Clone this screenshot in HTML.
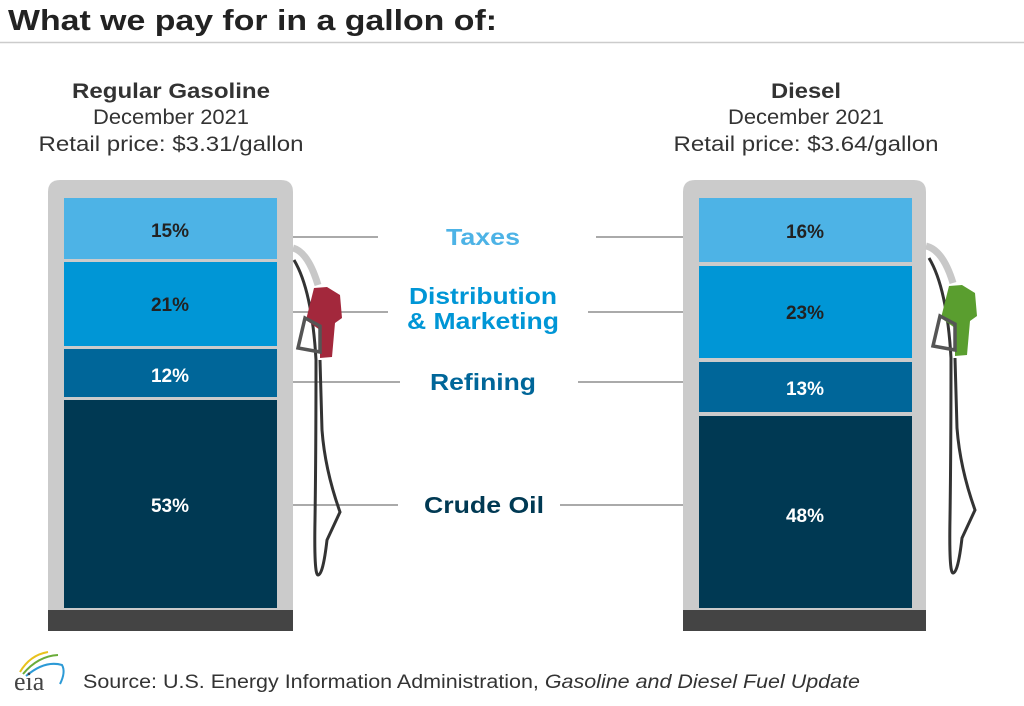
<!DOCTYPE html>
<html><head><style>
body{margin:0;background:#fff;}
svg{display:block;font-family:"Liberation Sans",Arial,sans-serif;}
</style></head><body>
<svg width="1024" height="706" viewBox="0 0 1024 706">
<text x="8" y="30" font-size="29" font-weight="bold" fill="#222" textLength="489" lengthAdjust="spacingAndGlyphs">What we pay for in a gallon of:</text>
<line x1="0" y1="42.5" x2="1024" y2="42.5" stroke="#ccc" stroke-width="1.5"/>

<g text-anchor="middle" fill="#333" font-size="21">
<text x="171" y="98" font-weight="bold" textLength="198" lengthAdjust="spacingAndGlyphs">Regular Gasoline</text>
<text x="171" y="124" textLength="156" lengthAdjust="spacingAndGlyphs">December 2021</text>
<text x="171" y="151" textLength="265" lengthAdjust="spacingAndGlyphs">Retail price: $3.31/gallon</text>
<text x="806" y="98" font-weight="bold" textLength="70" lengthAdjust="spacingAndGlyphs">Diesel</text>
<text x="806" y="124" textLength="156" lengthAdjust="spacingAndGlyphs">December 2021</text>
<text x="806" y="151" textLength="265" lengthAdjust="spacingAndGlyphs">Retail price: $3.64/gallon</text>
</g>

<path d="M48,610 V192 Q48,180 60,180 H281 Q293,180 293,192 V610 Z" fill="#cbcbcb"/>
<rect x="48" y="610" width="245" height="21" fill="#444"/>
<rect x="64" y="198" width="213" height="61" fill="#4db3e6"/>
<rect x="64" y="262" width="213" height="84" fill="#0096d6"/>
<rect x="64" y="349" width="213" height="48" fill="#006699"/>
<rect x="64" y="400" width="213" height="208" fill="#003953"/>
<path d="M683,610 V192 Q683,180 695,180 H914 Q926,180 926,192 V610 Z" fill="#cbcbcb"/>
<rect x="683" y="610" width="243" height="21" fill="#444"/>
<rect x="699" y="198" width="213" height="64" fill="#4db3e6"/>
<rect x="699" y="266" width="213" height="92" fill="#0096d6"/>
<rect x="699" y="362" width="213" height="50" fill="#006699"/>
<rect x="699" y="416" width="213" height="192" fill="#003953"/>

<g font-size="19" font-weight="bold" text-anchor="middle">
<text x="170" y="237" fill="#222">15%</text>
<text x="170" y="311" fill="#222">21%</text>
<text x="170" y="382" fill="#fff">12%</text>
<text x="170" y="512" fill="#fff">53%</text>
<text x="805" y="238" fill="#222">16%</text>
<text x="805" y="319" fill="#222">23%</text>
<text x="805" y="395" fill="#fff">13%</text>
<text x="805" y="522" fill="#fff">48%</text>
</g>

<g stroke="#777" stroke-width="1.2">
<line x1="293" y1="237" x2="378" y2="237"/><line x1="596" y1="237" x2="683" y2="237"/>
<line x1="293" y1="312" x2="388" y2="312"/><line x1="588" y1="312" x2="683" y2="312"/>
<line x1="293" y1="382" x2="400" y2="382"/><line x1="578" y1="382" x2="683" y2="382"/>
<line x1="293" y1="505" x2="398" y2="505"/><line x1="560" y1="505" x2="683" y2="505"/>
</g>
<g font-size="23" font-weight="bold" text-anchor="middle">
<text x="483" y="245" fill="#4db3e6" textLength="74" lengthAdjust="spacingAndGlyphs">Taxes</text>
<text x="483" y="304" fill="#0096d6" textLength="148" lengthAdjust="spacingAndGlyphs">Distribution</text>
<text x="483" y="329" fill="#0096d6" textLength="152" lengthAdjust="spacingAndGlyphs">&amp; Marketing</text>
<text x="483" y="390" fill="#006699" textLength="106" lengthAdjust="spacingAndGlyphs">Refining</text>
<text x="484" y="513" fill="#003953" textLength="120" lengthAdjust="spacingAndGlyphs">Crude Oil</text>
</g>

<path d="M294,260 Q312,290 316,360 Q316,450 315,520 Q314,575 318,575 Q323,575 327,540 L340,512 Q325,470 322,430 L320,360" fill="none" stroke="#333" stroke-width="3"/>
<path d="M293,248 Q308,252 318,285" fill="none" stroke="#c8c8c8" stroke-width="7"/>
<path d="M314,288 L327,287 L340,295 L342,318 L335,323 L332,357 L320,358 L320,330 L306,320 Z" fill="#a3283c"/>
<path d="M305,318 L320,326 L320,352 L298,348 Z" fill="none" stroke="#555" stroke-width="3.5"/>

<path d="M929,258 Q947,288 951,358 Q951,448 950,518 Q949,573 953,573 Q958,573 962,538 L975,510 Q960,468 957,428 L955,358" fill="none" stroke="#333" stroke-width="3"/>
<path d="M926,246 Q943,250 953,283" fill="none" stroke="#c8c8c8" stroke-width="7"/>
<path d="M949,286 L962,285 L975,293 L977,316 L970,321 L967,355 L955,356 L955,328 L941,318 Z" fill="#5a9e2f"/>
<path d="M940,316 L955,324 L955,350 L933,346 Z" fill="none" stroke="#555" stroke-width="3.5"/>

<path d="M20,672 Q30,655 48,652" fill="none" stroke="#e8c21c" stroke-width="2"/>
<path d="M23,674 Q38,656 58,655" fill="none" stroke="#6aac3a" stroke-width="2"/>
<path d="M26,676 Q45,660 62,665 Q66,672 60,684" fill="none" stroke="#2c9ad6" stroke-width="2"/>
<text x="14" y="690" font-family="Liberation Serif,serif" font-size="26" fill="#444">eia</text>
<text x="83" y="688" font-size="19" fill="#333" textLength="777" lengthAdjust="spacingAndGlyphs">Source: U.S. Energy Information Administration, <tspan font-style="italic">Gasoline and Diesel Fuel Update</tspan></text>
</svg>
</body></html>
